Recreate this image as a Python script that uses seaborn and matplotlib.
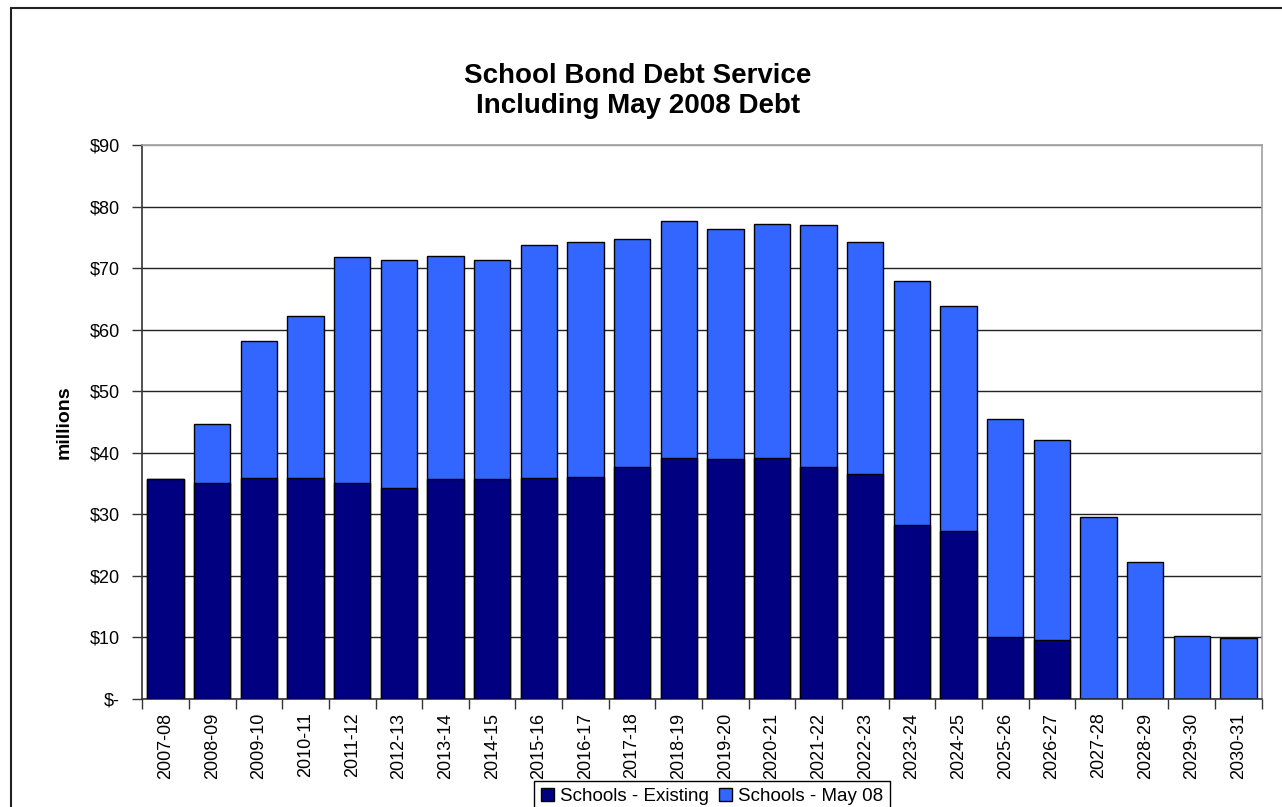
import numpy as np
import pandas as pd
import matplotlib
matplotlib.use("Agg")
import matplotlib.pyplot as plt
import seaborn as sns
from matplotlib.patches import Rectangle, Patch

# ---- data ----
years = ["2007-08", "2008-09", "2009-10", "2010-11", "2011-12", "2012-13", "2013-14",
         "2014-15", "2015-16", "2016-17", "2017-18", "2018-19", "2019-20", "2020-21",
         "2021-22", "2022-23", "2023-24", "2024-25", "2025-26", "2026-27", "2027-28",
         "2028-29", "2029-30", "2030-31"]
existing = [35.7, 35.1, 35.9, 35.9, 35.1, 34.2, 35.7, 35.7, 35.9, 36.1, 37.6, 39.2,
            39.0, 39.2, 37.7, 36.5, 28.2, 27.2, 10.1, 9.5, 0.0, 0.0, 0.0, 0.0]
may08 = [0.0, 9.6, 22.3, 26.3, 36.7, 37.2, 36.3, 35.7, 37.8, 38.2, 37.2, 38.5,
         37.4, 38.0, 39.3, 37.8, 39.8, 36.7, 35.4, 32.5, 29.6, 22.3, 10.2, 9.8]
y_ticks = [0, 10, 20, 30, 40, 50, 60, 70, 80, 90]
y_tick_labels = ["$-", "$10", "$20", "$30", "$40", "$50", "$60", "$70", "$80", "$90"]
series_names = ["Schools - Existing", "Schools - May 08"]
title_lines = ["School Bond Debt Service", "Including May 2008 Debt"]

total = [e + m for e, m in zip(existing, may08)]
df = pd.DataFrame({"year": years, "existing": existing, "total": total})

sns.set_theme(style="white")
plt.rcParams['font.family'] = ['Liberation Sans', 'DejaVu Sans']
plt.rcParams['text.color'] = 'black'
plt.rcParams['axes.labelcolor'] = 'black'
plt.rcParams['xtick.color'] = 'black'
plt.rcParams['ytick.color'] = 'black'

DARK = "#000080"
BLUE = "#3366FF"

fig = plt.figure(figsize=(12.82, 8.07), dpi=100)
fig.patch.set_facecolor("white")
ax = fig.add_axes([0.111, 0.1342, 0.8732, 0.6858])

sns.barplot(data=df, x="year", y="total", color=BLUE, saturation=1, width=0.78,
            edgecolor="black", linewidth=1, errorbar=None, ax=ax, zorder=2)
sns.barplot(data=df, x="year", y="existing", color=DARK, saturation=1, width=0.78,
            edgecolor="black", linewidth=1, errorbar=None, ax=ax, zorder=3)

ax.set_xlim(-0.5, len(years) - 0.5)
ax.set_ylim(0, 90)
ax.set_yticks(y_ticks)
ax.set_yticklabels(y_tick_labels, fontsize=13)
ax.set_xticks(range(len(years)))
ax.set_xticklabels(years, rotation=90, fontsize=13)
ax.set_xticks(np.arange(-0.5, len(years), 1), minor=True)

ax.tick_params(axis="x", which="major", bottom=True, length=0, pad=10)
ax.tick_params(axis="x", which="minor", bottom=True, length=7, width=1,
               color="#333333", direction="out")
ax.tick_params(axis="y", which="major", left=True, length=7, width=1,
               color="#333333", direction="out", pad=9)

ax.yaxis.grid(True, color="#222222", linewidth=1)
ax.set_axisbelow(True)
gl = ax.yaxis.get_gridlines()
gl[-1].set_color("#999999")

for side in ["left", "bottom"]:
    ax.spines[side].set_color("#333333")
    ax.spines[side].set_linewidth(1.2)
for side in ["top", "right"]:
    ax.spines[side].set_color("#a0a0a0")
    ax.spines[side].set_linewidth(1.2)

ax.set_xlabel("")
ax.set_ylabel("millions", fontsize=14, fontweight="bold")
ax.yaxis.set_label_coords(-0.0625, 0.5)

# titles
fig.text(638 / 1282, 1 - 83 / 807, title_lines[0], ha="center", va="baseline",
         fontsize=20, fontweight="bold")
fig.text(638 / 1282, 1 - 113 / 807, title_lines[1], ha="center", va="baseline",
         fontsize=20, fontweight="bold")

# chart-area border
fig.patches.append(Rectangle((11 / 1282, -0.05), 1.2, (807 - 8) / 807 + 0.05,
                             transform=fig.transFigure, fill=False,
                             edgecolor="#222222", linewidth=1.5, zorder=0))

handles = [Patch(facecolor=DARK, edgecolor="black", linewidth=1),
           Patch(facecolor=BLUE, edgecolor="black", linewidth=1)]
leg = fig.legend(handles, series_names, loc="upper center",
                 bbox_to_anchor=(712 / 1282, 1 - 781 / 807), ncol=2, frameon=True,
                 fancybox=False, edgecolor="black", fontsize=13.5, handlelength=0.7,
                 handleheight=0.7, handletextpad=0.35, columnspacing=0.5,
                 borderpad=0.35, borderaxespad=0)
leg.get_frame().set_linewidth(1)
leg.get_frame().set_alpha(1)

fig.savefig("out.png", dpi=100, facecolor="white")
